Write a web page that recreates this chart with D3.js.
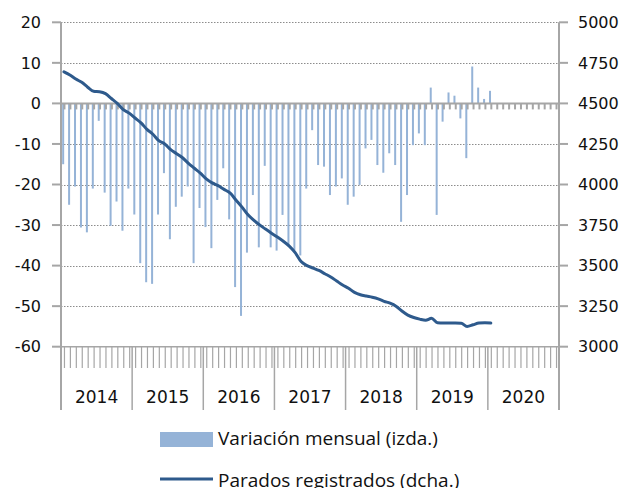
<!DOCTYPE html>
<html>
<head>
<meta charset="utf-8">
<script src="https://cdn.jsdelivr.net/npm/d3@7"></script>
<style>
  body { margin: 0; background: #fff; }
  svg { display: block; }
</style>
</head>
<body>
<div id="chart"></div>
<script>
// Tamaño del lienzo
var width = 626;
var height = 488;

// Años del eje de categorías
var years = ["2014", "2015", "2016", "2017", "2018", "2019", "2020"];

// Variación mensual (miles, eje izquierdo), ene-2014 a ene-2020
var variacion = [
  -15.0, -25.0, -20.5, -30.6, -31.8, -21.0, -4.3, -22.0, -30.2, -24.2, -31.4, -21.0,
  -27.4, -39.4, -44.1, -44.5, -27.4, -17.2, -33.5, -25.5, -23.0, -20.5, -39.4, -25.8,
  -30.5, -35.7, -23.8, -16.0, -28.6, -45.3, -52.4, -36.8, -22.6, -35.5, -15.4, -35.5,
  -36.3, -27.5, -35.0, -36.3, -37.5, -21.0, -6.6, -15.2, -15.6, -22.6, -20.5, -18.5,
  -25.0, -23.0, -20.1, -11.1, -9.0, -15.2, -17.1, -12.3, -15.2, -29.2, -22.6, -10.3,
  -7.4, -10.3, 3.9, -27.5, -4.5, 2.7, 1.9, -3.7, -13.5, 9.1, 3.9, 1.1,
  3.1
];

// Parados registrados (miles, eje derecho)
var parados = [
  4695, 4675, 4650, 4630, 4600, 4575, 4572, 4560, 4530, 4500, 4462, 4440,
  4410, 4380, 4340, 4310, 4270, 4250, 4215, 4190, 4165, 4130, 4100, 4070,
  4035, 4010, 3993, 3970, 3948, 3905, 3862, 3815, 3780, 3751, 3725, 3700,
  3676, 3650, 3620, 3580, 3525, 3500, 3485, 3470, 3450, 3430, 3405, 3380,
  3360, 3335, 3320, 3312, 3305, 3295, 3280, 3268, 3250, 3220, 3195, 3180,
  3170, 3163, 3175, 3148, 3146, 3146, 3146, 3145, 3125, 3135, 3146, 3148,
  3146
];

// Ticks de los ejes
var ticksIzq = [20, 10, 0, -10, -20, -30, -40, -50, -60];
var ticksDcha = [5000, 4750, 4500, 4250, 4000, 3750, 3500, 3250, 3000];

// Leyenda
var leyenda = ["Variación mensual (izda.)", "Parados registrados (dcha.)"];

// Meses como categorías (año-mes)
var meses = [];
years.forEach(function(y) {
  for (var m = 1; m <= 12; m++) meses.push(y + "-" + m);
});

// Área de dibujo
var pIzq = 61, pDcha = 559, pSup = 22.3, pInf = 346.7;

var svg = d3.select("#chart")
  .append("svg")
  .attr("width", width)
  .attr("height", height);

var x = d3.scaleBand().domain(meses).range([pIzq, pDcha]).padding(0);
var yIzq = d3.scaleLinear().domain([-60, 20]).range([pInf, pSup]);
var yDcha = d3.scaleLinear().domain([3000, 5000]).range([pInf, pSup]);

var gris = "#a6a6a6";
var fuente = "DejaVu Sans, Verdana, sans-serif";

function centro(i) { return x(meses[i]) + x.bandwidth() / 2; }

// Líneas de cuadrícula punteadas
svg.append("g")
  .selectAll("line")
  .data(ticksIzq.filter(function(d) { return d !== 0 && d !== -60; }))
  .enter()
  .append("line")
  .attr("x1", pIzq)
  .attr("x2", pDcha)
  .attr("y1", function(d) { return Math.round(yIzq(d)) + 0.5; })
  .attr("y2", function(d) { return Math.round(yIzq(d)) + 0.5; })
  .attr("stroke", "#8c8c8c")
  .attr("stroke-width", 1)
  .attr("stroke-dasharray", "1.5,1.5");

// Barras de variación mensual
svg.append("g")
  .selectAll("rect")
  .data(variacion)
  .enter()
  .append("rect")
  .attr("x", function(d, i) { return centro(i) - 1.8; })
  .attr("width", 2)
  .attr("y", function(d) { return Math.min(yIzq(d), yIzq(0)); })
  .attr("height", function(d) { return Math.abs(yIzq(d) - yIzq(0)); })
  .attr("fill", "#95b3d7");

// Eje en cero con marcas mensuales
svg.append("line")
  .attr("x1", pIzq).attr("x2", pDcha)
  .attr("y1", yIzq(0)).attr("y2", yIzq(0))
  .attr("stroke", gris).attr("stroke-width", 2);

svg.append("g")
  .selectAll("line")
  .data(meses)
  .enter()
  .append("line")
  .attr("x1", function(d, i) { return centro(i) + 0.5; })
  .attr("x2", function(d, i) { return centro(i) + 0.5; })
  .attr("y1", yIzq(0))
  .attr("y2", yIzq(0) + 6)
  .attr("stroke", gris)
  .attr("stroke-width", 2);

// Eje inferior: línea, marcas mensuales y separadores de año
svg.append("line")
  .attr("x1", pIzq).attr("x2", pDcha)
  .attr("y1", pInf).attr("y2", pInf)
  .attr("stroke", gris).attr("stroke-width", 1.5);

svg.append("g")
  .selectAll("line")
  .data(meses)
  .enter()
  .append("line")
  .attr("x1", function(d, i) { return centro(i) + 0.5; })
  .attr("x2", function(d, i) { return centro(i) + 0.5; })
  .attr("y1", pInf)
  .attr("y2", 368)
  .attr("stroke", gris)
  .attr("stroke-width", 1.2);

svg.append("g")
  .selectAll("line")
  .data(years.slice(1))
  .enter()
  .append("line")
  .attr("x1", function(d) { return x(d + "-1"); })
  .attr("x2", function(d) { return x(d + "-1"); })
  .attr("y1", pInf)
  .attr("y2", 410)
  .attr("stroke", gris)
  .attr("stroke-width", 1.5);

svg.append("g")
  .selectAll("text")
  .data(years)
  .enter()
  .append("text")
  .attr("x", function(d) { return x(d + "-1") + x.bandwidth() * 6; })
  .attr("y", 403)
  .attr("text-anchor", "middle")
  .attr("font-family", fuente)
  .attr("font-size", 17)
  .attr("fill", "#111")
  .text(function(d) { return d; });

// Ejes verticales
svg.append("line")
  .attr("x1", pIzq).attr("x2", pIzq)
  .attr("y1", pSup).attr("y2", 410)
  .attr("stroke", gris).attr("stroke-width", 2);
svg.append("line")
  .attr("x1", pDcha).attr("x2", pDcha)
  .attr("y1", pSup).attr("y2", 410)
  .attr("stroke", gris).attr("stroke-width", 2);

// Eje izquierdo
var gIzq = svg.append("g")
  .selectAll("g")
  .data(ticksIzq)
  .enter()
  .append("g")
  .attr("transform", function(d) { return "translate(0," + yIzq(d) + ")"; });
gIzq.append("line")
  .attr("x1", 52).attr("x2", pIzq)
  .attr("stroke", gris).attr("stroke-width", 2);
gIzq.append("text")
  .attr("x", 41)
  .attr("dy", "0.36em")
  .attr("text-anchor", "end")
  .attr("font-family", fuente)
  .attr("font-size", 16)
  .attr("fill", "#111")
  .text(function(d) { return d; });

// Eje derecho
var gDcha = svg.append("g")
  .selectAll("g")
  .data(ticksDcha)
  .enter()
  .append("g")
  .attr("transform", function(d) { return "translate(0," + yDcha(d) + ")"; });
gDcha.append("line")
  .attr("x1", pDcha).attr("x2", 568)
  .attr("stroke", gris).attr("stroke-width", 2);
gDcha.append("text")
  .attr("x", 578)
  .attr("dy", "0.36em")
  .attr("font-family", fuente)
  .attr("font-size", 16)
  .attr("fill", "#111")
  .text(function(d) { return d; });

// Línea de parados registrados
var linea = d3.line()
  .x(function(d, i) { return centro(i); })
  .y(function(d) { return yDcha(d); })
  .curve(d3.curveMonotoneX);

svg.append("path")
  .datum(parados)
  .attr("d", linea)
  .attr("fill", "none")
  .attr("stroke", "#2e5a8c")
  .attr("stroke-width", 3)
  .attr("stroke-linejoin", "round")
  .attr("stroke-linecap", "round");

// Leyenda
svg.append("rect")
  .attr("x", 160).attr("y", 432)
  .attr("width", 53).attr("height", 15)
  .attr("fill", "#95b3d7");
svg.append("line")
  .attr("x1", 160).attr("x2", 213)
  .attr("y1", 479).attr("y2", 479)
  .attr("stroke", "#2e5a8c").attr("stroke-width", 3);

svg.append("g")
  .selectAll("text")
  .data(leyenda)
  .enter()
  .append("text")
  .attr("x", 218)
  .attr("y", function(d, i) { return 445 + i * 42; })
  .attr("font-family", "'Open Sans', sans-serif")
  .attr("font-size", 19)
  .attr("fill", "#111")
  .text(function(d) { return d; });
</script>
</body>
</html>
